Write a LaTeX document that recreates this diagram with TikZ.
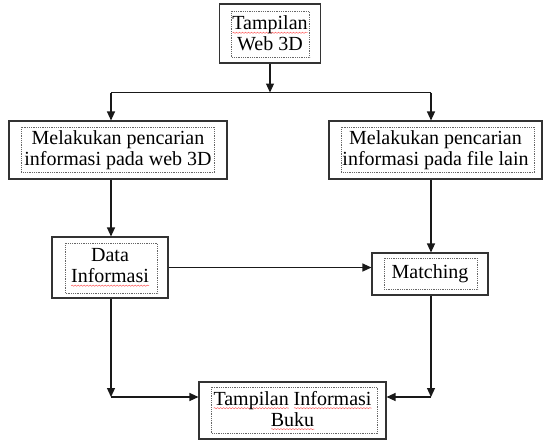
\documentclass[tikz,border=0pt]{standalone}
\usepackage{fontspec}
\setmainfont{Liberation Serif}
\usetikzlibrary{arrows.meta,decorations.pathmorphing}
\newcommand\redwave[1]{\setbox0\hbox{#1}\leavevmode\rlap{\tikz[baseline=0pt,x=1pt,y=1pt]\draw[red!70!white,line width=0.4pt,decorate,decoration={snake,amplitude=0.6pt,segment length=3pt}] (0,-3) -- (\the\wd0,-3);}\box0}
\newcommand\dotin[5]{\draw[dotbox] ([xshift=#2pt,yshift=-#3pt]#1.north west) rectangle ([xshift=-#4pt,yshift=#5pt]#1.south east);}
\begin{document}
\begin{tikzpicture}[x=1pt,y=-1pt,
  box/.style={draw=black!80, line width=1.1pt, inner sep=0pt, align=center, font=\fontsize{20}{21}\selectfont},
  conn/.style={line width=1.2pt, draw=black!90},
  arr/.style={conn, -{Triangle[length=9pt,width=8pt]}},
  dotbox/.style={draw=black!60, line width=0.6pt, dash pattern=on 0.8pt off 1pt}]
\useasboundingbox (0,0) rectangle (543,442);
\node[box, minimum width=101pt, minimum height=59pt] (top) at (270,33.5) {\redwave{Tampilan}\\Web 3D};
\node[box, minimum width=218pt, minimum height=58pt] (left) at (118,150) {Melakukan pencarian\\informasi pada web 3D};
\node[box, minimum width=213pt, minimum height=58pt] (right) at (435.5,150) {Melakukan pencarian\\informasi pada file lain};
\node[box, minimum width=116pt, minimum height=61pt] (data) at (110,267.5) {Data\\\redwave{Informasi}};
\node[box, minimum width=116pt, minimum height=42pt] (matching) at (430,274) {Matching};
\node[box, minimum width=187pt, minimum height=57pt] (bottom) at (292.5,410.5) {\redwave{Tampilan}\hspace{0.25em}\redwave{Informasi}\\\redwave{Buku}};
\dotin{top}{12.5}{8}{11.5}{6}
\dotin{left}{13}{7}{13}{7}
\dotin{right}{13}{7}{8}{7}
\dotin{data}{14}{7}{11}{5}
\dotin{matching}{13}{6}{11}{6}
\dotin{bottom}{13}{6}{9}{6}
\coordinate (jl) at (111,92.5);
\coordinate (jr) at (431,92.5);
\coordinate (bl) at (111,397);
\coordinate (br) at (431,397);
\draw[arr] (top.south) -- (top.south |- jl);
\draw[conn] (jl) -- (jr);
\draw[arr] (jl) -- (jl |- left.north);
\draw[arr] (jr) -- (jr |- right.north);
\draw[arr] (left.south -| jl) -- (jl |- data.north);
\draw[arr] (right.south -| jr) -- (jr |- matching.north);
\draw[arr] (data.east) -- (matching.west |- data.east);
\draw[arr] (data.south -| bl) -- (bl);
\draw[arr] (bl) -- (bottom.west |- bl);
\draw[arr] (matching.south -| br) -- (br);
\draw[arr] (br) -- (bottom.east |- br);
\end{tikzpicture}
\end{document}
